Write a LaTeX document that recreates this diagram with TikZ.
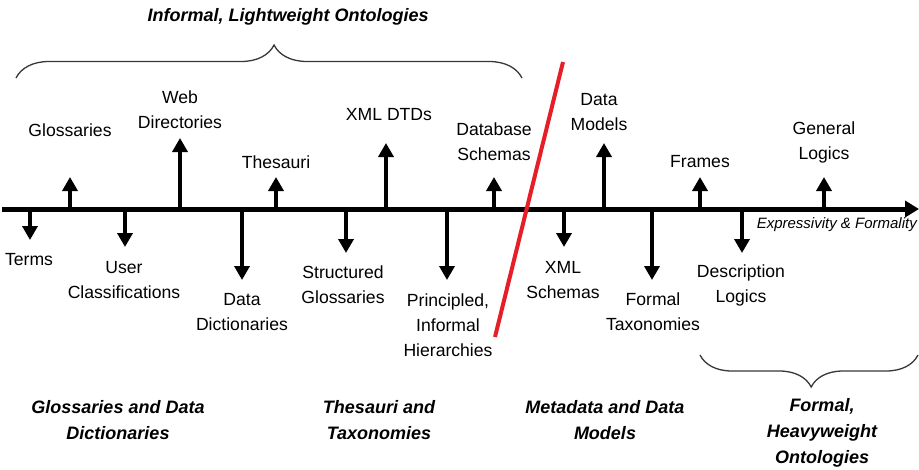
\documentclass[tikz,border=0pt]{standalone}
\usepackage{fontspec}
\setmainfont{Liberation Sans}
\usetikzlibrary{arrows.meta,decorations.pathreplacing}
\definecolor{cutred}{RGB}{230,30,40}
\definecolor{bracegray}{RGB}{55,55,55}
\begin{document}
\begin{tikzpicture}[x=1pt,y=-1pt,
  lbl/.style={font=\fontsize{17.6}{25}\selectfont, align=center, inner sep=0pt},
  grp/.style={font=\fontsize{18}{26}\selectfont\bfseries\itshape, align=center, inner sep=0pt},
  axisline/.style={line width=5pt, -{Triangle[width=16pt,length=14pt]}},
  tick/.style={line width=4pt, -{Triangle[width=15pt,length=14pt]}},
  bracestyle/.style={draw=bracegray, line width=1.3pt, decorate},
  divider/.style={draw=cutred, line width=4pt}]
\useasboundingbox (0,0) rectangle (919,469);

% main axis
\coordinate (ax-l) at (2,209);
\coordinate (ax-r) at (919,209);
\draw[axisline] (ax-l) -- (ax-r);
\node[anchor=east, inner sep=0pt, font=\fontsize{15}{18}\selectfont\itshape] (axlabel) at (917,225) {Expressivity \& Formality};

% upward ticks
\foreach \name/\x/\tip in {gl/70/177, wd/180/138, th/276/177, xd/386/143, ds/494/177, dm/604/143, fr/700/177, lo/824/177}{
  \coordinate (b-\name) at (\x,209);
  \coordinate (t-\name) at (\x,\tip);
  \draw[tick] (b-\name) -- (t-\name);
}
% downward ticks
\foreach \name/\x/\tip in {te/30/240, uc/125/247, dd/242/280, sg/346/253, ph/447/280, xs/564/247, ft/652/280, dl/742/253}{
  \coordinate (b-\name) at (\x,209);
  \coordinate (t-\name) at (\x,\tip);
  \draw[tick] (b-\name) -- (t-\name);
}

% labels above the axis
\node[lbl] (n-gl) at (70,130) {Glossaries};
\node[lbl] (n-wd) at (180,110) {Web\\Directories};
\node[lbl] (n-th) at (276,162) {Thesauri};
\node[lbl] (n-xd) at (389,115) {XML DTDs};
\node[lbl] (n-ds) at (494,142) {Database\\Schemas};
\node[lbl] (n-dm) at (599,112) {Data\\Models};
\node[lbl] (n-fr) at (700,162) {Frames};
\node[lbl] (n-lo) at (824,142) {General\\Logics};

% labels below the axis
\node[lbl] (n-te) at (29,260) {Terms};
\node[lbl] (n-uc) at (124,280) {User\\Classifications};
\node[lbl] (n-dd) at (242,312) {Data\\Dictionaries};
\node[lbl] (n-sg) at (343,285) {Structured\\Glossaries};
\node[lbl] (n-ph) at (448,325) {Principled,\\Informal\\Hierarchies};
\node[lbl] (n-xs) at (563,280) {XML\\Schemas};
\node[lbl] (n-ft) at (653,312) {Formal\\Taxonomies};
\node[lbl] (n-dl) at (741,285) {Description\\Logics};

% dividing line between lightweight and heavyweight
\coordinate (cut-top) at (563,62);
\coordinate (cut-bot) at (495,337);
\draw[divider] (cut-top) -- (cut-bot);

% braces
\coordinate (br1-l) at (16,78);
\coordinate (br1-r) at (522,78);
\draw[bracestyle, decoration={brace, amplitude=33pt, aspect=0.51}] (br1-l) -- (br1-r);
\node[grp] (g-light) at (288,17) {Informal, Lightweight Ontologies};

\coordinate (br2-r) at (918,355);
\coordinate (br2-l) at (700,355);
\draw[bracestyle, decoration={brace, amplitude=32pt, aspect=0.49}] (br2-r) -- (br2-l);
\node[grp] (g-heavy) at (822,433) {Formal,\\Heavyweight\\Ontologies};

% group captions
\node[grp] (g-gd) at (118,420) {Glossaries and Data\\Dictionaries};
\node[grp] (g-tt) at (379,420) {Thesauri and\\Taxonomies};
\node[grp] (g-md) at (605,420) {Metadata and Data\\Models};
\end{tikzpicture}
\end{document}
